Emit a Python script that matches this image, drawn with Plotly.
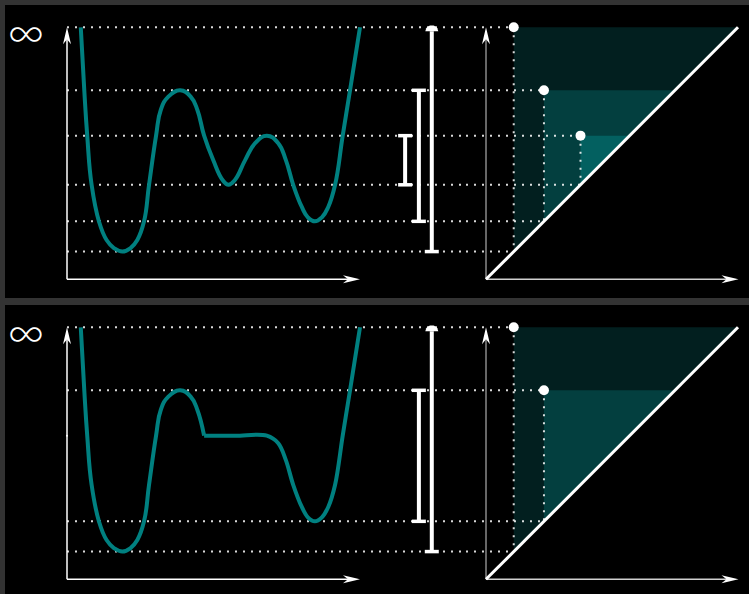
import numpy as np
import plotly.graph_objects as go

W, H = 749, 594

# level used for the essential class (drawn as the "infinity" row)
INF = 10.0

# height function of the first landscape: three basins, two ridges
F1_X = [0.47, 0.59, 0.69, 0.84, 1.09, 1.35, 1.61, 1.89, 2.16, 2.40, 2.63, 2.80,
        3.04, 3.20, 3.46, 3.86, 4.22, 4.45, 4.68, 4.99, 5.31, 5.51, 5.73, 6.08,
        6.42, 6.82, 7.21, 7.47, 7.72, 8.01, 8.22, 8.46, 8.70, 8.92, 9.15, 9.41,
        9.66, 10.0]
F1_Y = [10.0, 7.50, 5.70, 3.75, 2.30, 1.56, 1.23, 1.10, 1.23, 1.56, 2.30, 3.75,
        5.70, 6.72, 7.25, 7.50, 7.25, 6.72, 5.70, 4.73, 3.94, 3.75, 3.94, 4.73,
        5.40, 5.70, 5.40, 4.73, 3.75, 2.88, 2.46, 2.30, 2.46, 2.88, 3.75, 5.70,
        7.50, 10.0]

# second landscape: the middle basin is filled up to a flat shelf
F2_X = [0.47, 0.59, 0.69, 0.84, 1.09, 1.35, 1.61, 1.89, 2.16, 2.40, 2.63, 2.80,
        3.04, 3.20, 3.46, 3.86, 4.22, 4.45, 4.68, 5.75, 6.82, 7.21, 7.47, 7.72,
        8.01, 8.22, 8.46, 8.70, 8.92, 9.15, 9.41, 9.66, 10.0]
F2_Y = [10.0, 7.50, 5.70, 3.75, 2.30, 1.56, 1.23, 1.10, 1.23, 1.56, 2.30, 3.75,
        5.70, 6.72, 7.25, 7.50, 7.25, 6.72, 5.70, 5.70, 5.70, 5.40, 4.73, 3.75,
        2.88, 2.46, 2.30, 2.46, 2.88, 3.75, 5.70, 7.50, 10.0]
F2_KINK = 18  # index where the descending slope meets the shelf

# persistence pairs (birth, death)
P1_BIRTH = [1.1, 2.3, 3.75]
P1_DEATH = [INF, 7.5, 5.7]
P2_BIRTH = [1.1, 2.3]
P2_DEATH = [INF, 7.5]

# ---- layout geometry (pixels) ----
PX_V = 25.2          # pixels per unit of height (and of birth in the diagram)
PX_U = 29.3          # pixels per unit along the landscape
FUNC_X0 = 67         # landscape origin
DIAG_X0 = 486        # diagram origin
SPLIT = 466          # boundary between landscape axes and diagram axes
ORIGIN_Y = [279.3, 579.3]
PANEL_PX = [(0, 297), (297, 594)]
BAR_U = [12.45, 12.01, 11.54]   # bar columns, longest first

TEAL = "#008080"
DOT = "rgba(255,255,255,0.85)"
SHADES = ["#021f1f", "#033f3f", "#036060"]

x_rng = [-FUNC_X0 / PX_U, (SPLIT - FUNC_X0) / PX_U]
x2_rng = [(SPLIT - DIAG_X0) / PX_V, (W - DIAG_X0) / PX_V]

fig = go.Figure()


def ax(panel, diag):
    xa = ["x", "x2", "x3", "x4"][2 * panel + (1 if diag else 0)]
    ya = ["y", "y2"][panel]
    return dict(xaxis=xa, yaxis=ya)


def add(panel, diag, **kw):
    kw.setdefault("showlegend", False)
    kw.setdefault("hoverinfo", "skip")
    if "mode" not in kw:
        kw["mode"] = "lines"
    fig.add_trace(go.Scatter(**kw, **ax(panel, diag)))


def arrow(tip_x, tip_y, direction, sx, sy):
    # concave "stealth" head, offsets in pixels
    pts = [(0, 0), (-17, 4), (-12, 0), (-17, -4), (0, 0)]
    xs, ys = [], []
    for a, b in pts:
        dx, dy = (b, a) if direction == "up" else (a, b)
        xs.append(tip_x + dx / sx)
        ys.append(tip_y + dy / sy)
    return xs, ys


def draw_panel(p, fx, fy, kink, births, deaths):
    # shaded regions above the diagonal, one per pair
    for i, (b, d) in enumerate(zip(births, deaths)):
        add(p, True, x=[b, d, b, b], y=[d, d, b, d], fill="toself",
            fillcolor=SHADES[i], line=dict(width=0))

    # dotted guide lines
    hx_l, hy_l, hx_r, hy_r, vx, vy = [], [], [], [], [], []
    for b, d in zip(births, deaths):
        for lev in (d, b):
            hx_l += [0, x_rng[1], None]
            hy_l += [lev, lev, None]
            hx_r += [x2_rng[0], b, None]
            hy_r += [lev, lev, None]
        vx += [b, b, None]
        vy += [d, b, None]
    dot = dict(color=DOT, width=2, dash="2px,6px")
    add(p, False, x=hx_l, y=hy_l, line=dot)
    add(p, True, x=hx_r, y=hy_r, line=dot)
    add(p, True, x=vx, y=vy, line=dot)

    # diagram axes and diagonal
    add(p, True, x=[0, 0], y=[0, INF - 0.4], line=dict(color="#8a8a8a", width=1.5))
    add(p, True, x=[0, INF - 0.4], y=[0, 0], line=dict(color="#d0d0d0", width=1.5))
    add(p, True, x=[0, INF], y=[0, INF], line=dict(color="white", width=3))
    for d_ in ("up", "right"):
        tx, ty = (0, INF) if d_ == "up" else (INF + 0.02, 0)
        ax_, ay_ = arrow(tx, ty, d_, PX_V, PX_V)
        add(p, True, x=ax_, y=ay_, fill="toself", fillcolor="white",
            line=dict(width=0))

    # landscape axes
    add(p, False, x=[0, 0], y=[0, INF - 0.4], line=dict(color="white", width=1.5))
    add(p, False, x=[0, 10.0 - 0.4], y=[0, 0], line=dict(color="white", width=1.5))
    for d_ in ("up", "right"):
        tx, ty = (0, INF) if d_ == "up" else (10.0, 0)
        ax_, ay_ = arrow(tx, ty, d_, PX_U, PX_V)
        add(p, False, x=ax_, y=ay_, fill="toself", fillcolor="white",
            line=dict(width=0))

    # the height function
    curve = dict(color=TEAL, width=4, shape="spline", smoothing=1.3)
    if kink is None:
        add(p, False, x=fx, y=fy, line=curve)
    else:
        add(p, False, x=fx[:kink + 1], y=fy[:kink + 1], line=curve)
        add(p, False, x=fx[kink:], y=fy[kink:], line=dict(curve, smoothing=1.0))

    # barcode
    dome_base = INF - 4 / PX_V
    cap_x, cap_y = [], []
    for i, (b, d) in enumerate(zip(births, deaths)):
        u = BAR_U[i]
        top = dome_base if d >= INF else d
        add(p, False, x=[u, u], y=[b, top], line=dict(color="white", width=4))
        cap_x.append(u)
        cap_y.append(b)
        if d >= INF:
            th = np.linspace(0, np.pi, 30)
            add(p, False, x=list(u + 6.5 / PX_U * np.cos(th)),
                y=list(dome_base + 6 / PX_V * np.sin(th)),
                fill="toself", fillcolor="white", line=dict(width=0))
        else:
            cap_x.append(u)
            cap_y.append(d)
    add(p, False, x=cap_x, y=cap_y, mode="markers",
        marker=dict(symbol="line-ew", size=10, line=dict(color="white", width=3.5)))

    # diagram points
    add(p, True, x=births, y=deaths, mode="markers",
        marker=dict(color="white", size=10, line=dict(width=0)))

    fig.add_annotation(x=-1.40, y=INF, xref=ax(p, False)["xaxis"],
                       yref=ax(p, False)["yaxis"], text="∞", showarrow=False,
                       yshift=-5,
                       font=dict(family="Inter", weight=200, size=40, color="white"))


draw_panel(0, F1_X, F1_Y, None, P1_BIRTH, P1_DEATH)
draw_panel(1, F2_X, F2_Y, F2_KINK, P2_BIRTH, P2_DEATH)
# stray tick left on the shelf level
add(1, False, x=[0], y=[5.7], mode="markers", marker=dict(color="white", size=2))

layout = dict(
    width=W, height=H, margin=dict(l=0, r=0, t=0, b=0),
    paper_bgcolor="#333333", plot_bgcolor="rgba(0,0,0,0)",
    showlegend=False,
    shapes=[
        dict(type="rect", xref="paper", yref="paper", x0=5 / W, x1=1,
             y0=1 - 298 / H, y1=1 - 5 / H, fillcolor="black", line=dict(width=0),
             layer="below"),
        dict(type="rect", xref="paper", yref="paper", x0=5 / W, x1=1,
             y0=0, y1=1 - 305 / H, fillcolor="black", line=dict(width=0),
             layer="below"),
    ],
)
hidden = dict(visible=False, fixedrange=True)
for p in range(2):
    top_px, bot_px = PANEL_PX[p]
    yr = [(ORIGIN_Y[p] - bot_px) / PX_V, (ORIGIN_Y[p] - top_px) / PX_V]
    ydom = [1 - bot_px / H, 1 - top_px / H]
    yid = ["y", "y2"][p]
    layout[["yaxis", "yaxis2"][p]] = dict(domain=ydom, range=yr, **hidden)
    layout[["xaxis", "xaxis3"][p]] = dict(domain=[0, SPLIT / W], range=x_rng,
                                          anchor=yid, **hidden)
    layout[["xaxis2", "xaxis4"][p]] = dict(domain=[SPLIT / W, 1], range=x2_rng,
                                           anchor=yid, **hidden)

fig.update_layout(**layout)
fig.write_html("out.html")
